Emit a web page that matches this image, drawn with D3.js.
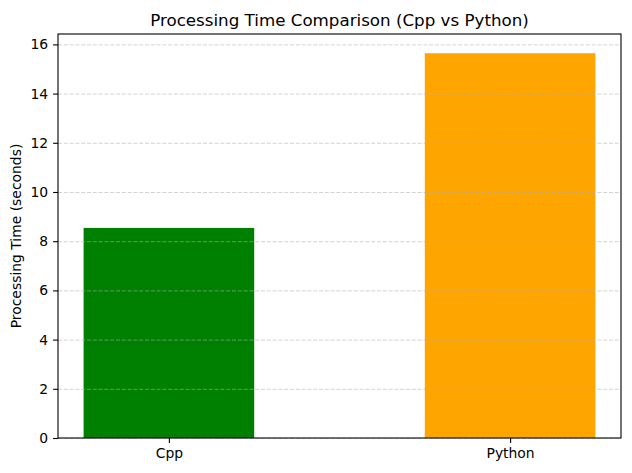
<!DOCTYPE html>
<html><head><meta charset="utf-8">
<script src="https://cdn.jsdelivr.net/npm/d3@7"></script>
<style>body{margin:0;background:#fff;} text{font-family:"DejaVu Sans",sans-serif;}</style>
</head><body>
<script>
const categories = ["Cpp", "Python"];
const times = [8.54, 15.64];
const barColors = ["green", "orange"];
const yTicks = [0, 2, 4, 6, 8, 10, 12, 14, 16];
const title = "Processing Time Comparison (Cpp vs Python)";
const yLabel = "Processing Time (seconds)";

const W = 632, H = 473;
const m = {left: 58, right: 11, top: 34, bottom: 35};
const iw = W - m.left - m.right, ih = H - m.top - m.bottom;

const svg = d3.select("body").append("svg").attr("width", W).attr("height", H);
const g = svg.append("g").attr("transform", `translate(${m.left},${m.top})`);

const x = d3.scaleLinear().domain([-0.325, categories.length - 1 + 0.325]).range([0, iw]);
const y = d3.scaleLinear().domain([0, d3.max(times) * 1.05]).range([ih, 0]);
const bw = x(0.5) - x(0);

g.selectAll("rect.bar").data(times).join("rect").attr("class", "bar")
  .attr("x", (d, i) => x(i) - bw / 2).attr("width", bw)
  .attr("y", d => y(d)).attr("height", d => ih - y(d))
  .attr("fill", (d, i) => barColors[i]);

g.selectAll("line.grid").data(yTicks).join("line").attr("class", "grid")
  .attr("x1", 0).attr("x2", iw).attr("y1", d => y(d) + 0.5).attr("y2", d => y(d) + 0.5)
  .attr("stroke", "#b0b0b0").attr("stroke-opacity", 0.7).attr("stroke-width", 0.8)
  .attr("stroke-dasharray", "4,1.8");

const ya = g.append("g").call(d3.axisLeft(y).tickValues(yTicks).tickSize(4.9).tickPadding(4.9).tickFormat(d3.format("d")));
const xa = g.append("g").attr("transform", `translate(0,${ih})`)
  .call(d3.axisBottom(x).tickValues(d3.range(categories.length)).tickSize(4.9).tickPadding(4.9).tickFormat(i => categories[i]));
[ya, xa].forEach(a => {
  a.select(".domain").remove();
  a.selectAll("text").attr("font-size", 13.9).attr("fill", "#000").attr("font-family", "DejaVu Sans");
  a.selectAll("line").attr("stroke", "#000").attr("stroke-width", 1.1);
});

g.append("rect").attr("x", 0).attr("y", 0).attr("width", iw).attr("height", ih)
  .attr("fill", "none").attr("stroke", "#000").attr("stroke-width", 1.1);

svg.append("text").attr("x", m.left + iw / 2).attr("y", m.top - 8).attr("text-anchor", "middle")
  .attr("font-size", 16.7).text(title);

svg.append("text").attr("transform", `translate(21,${m.top + ih / 2}) rotate(-90)`)
  .attr("text-anchor", "middle").attr("font-size", 13.9).text(yLabel);
</script>
</body></html>
